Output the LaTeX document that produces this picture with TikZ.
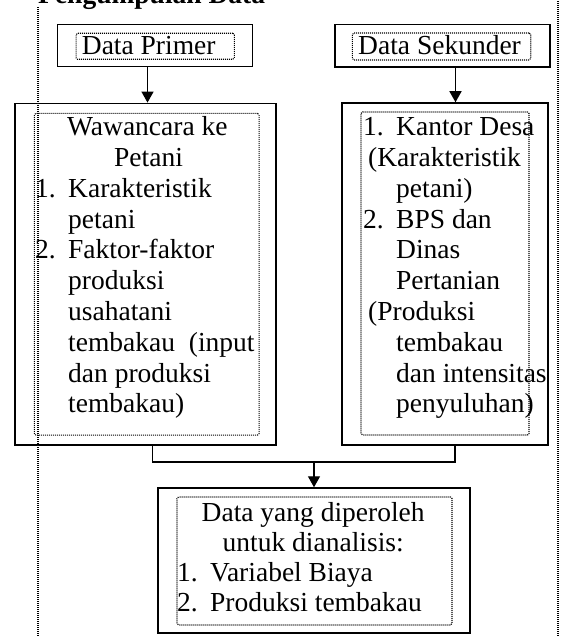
\documentclass[tikz,border=0pt]{standalone}
\usepackage{fontspec}
\setmainfont{Liberation Serif}
\usetikzlibrary{arrows.meta}
\newcommand\boxfont{\fontsize{27.5}{30.8}\selectfont}
\newcommand\hasilfont{\fontsize{27.5}{30}\selectfont}
\newcommand\itemno[1]{\makebox[33pt][l]{#1}}

\begin{document}
\begin{tikzpicture}[x=1pt,y=-1pt,
  kotak/.style={draw,line width=1.5pt,inner sep=0pt},
  titik/.style={line width=1.1pt,dash pattern=on 1pt off 1pt},
  dalam/.style={draw,titik,rounded corners=1.5pt,inner sep=0pt},
  teks/.style={font=\boxfont,inner sep=0pt,anchor=base west},
  garis/.style={line width=1.4pt},
  panah/.style={line width=1.4pt,-{Triangle[width=12pt,length=11pt]}}]

\useasboundingbox (0,0) rectangle (562,636);
\clip (0,0) rectangle (562,636);

% frame
\node[font=\bfseries\fontsize{27.5}{30}\selectfont,inner sep=0pt,anchor=base west] (judul) at (38,4) {Pengumpulan Data};
\draw[titik] (38,7) -- (38,640);
\draw[titik] (558,-5) -- (558,640);

% boxes
\node[kotak,minimum width=195pt,minimum height=42.4pt] (primer) at (154.8,45.5) {};
\node[dalam,minimum width=158.3pt,minimum height=26pt] (primerIn) at (155.2,46.3) {};
\node[kotak,minimum width=215pt,minimum height=42.7pt] (sekunder) at (442.5,45.7) {};
\node[dalam,minimum width=178.4pt,minimum height=27pt] (sekunderIn) at (441.5,46.5) {};

\node[kotak,minimum width=261pt,minimum height=341.7pt] (wawancara) at (145.5,274.2) {};
\node[dalam,minimum width=224.7pt,minimum height=321.7pt] (wawancaraIn) at (146.7,274.2) {};
\node[kotak,minimum width=206pt,minimum height=342pt] (kantor) at (445,274) {};
\node[dalam,minimum width=168pt,minimum height=323pt] (kantorIn) at (445,273.5) {};

\node[kotak,minimum width=312pt,minimum height=145pt] (hasil) at (314,560.5) {};
\node[dalam,minimum width=275pt,minimum height=128pt] (hasilIn) at (314.5,561) {};

% texts
\node[teks] (tPrimer) at (81.7,55) {Data Primer};
\node[teks] (tSekunder) at (358,55) {Data Sekunder};

\node[teks] (tWawancara) at (35,135.7) {\begin{tabular}[t]{@{}l@{}}
\hspace*{32pt}Wawancara ke\\
\hspace*{79pt}Petani\\
\itemno{1.}Karakteristik\\
\hspace*{33pt}petani\\
\itemno{2.}Faktor-faktor\\
\hspace*{33pt}produksi\\
\hspace*{33pt}usahatani\\
\hspace*{33pt}tembakau\ \ (input\\
\hspace*{33pt}dan produksi\\
\hspace*{33pt}tembakau)
\end{tabular}};

\node[teks] (tKantor) at (363,135.7) {\begin{tabular}[t]{@{}l@{}}
\itemno{1.}Kantor Desa\\
\hspace*{5pt}(Karakteristik\\
\hspace*{33pt}petani)\\
\itemno{2.}BPS dan\\
\hspace*{33pt}Dinas\\
\hspace*{33pt}Pertanian\\
\hspace*{5pt}(Produksi\\
\hspace*{33pt}tembakau\\
\hspace*{33pt}dan intensitas\\
\hspace*{33pt}penyuluhan)
\end{tabular}};

\node[teks,font=\hasilfont] (tHasil) at (177,521.7) {\begin{tabular}[t]{@{}l@{}}
\hspace*{24.5pt}Data yang diperoleh\\
\hspace*{45.5pt}untuk dianalisis:\\
\itemno{1.}Variabel Biaya\\
\itemno{2.}Produksi tembakau
\end{tabular}};

% connectors
\coordinate (kiri) at (147.5,0);
\coordinate (kanan) at (455.5,0);
\coordinate (turunKiri) at (152.7,0);
\coordinate (turunKanan) at (455,0);
\coordinate (gabung) at (314,462);

\draw[panah] (kiri |- primer.south) -- (kiri |- wawancara.north);
\draw[panah] (kanan |- sekunder.south) -- (kanan |- kantor.north);
\draw[garis] (turunKiri |- wawancara.south) |- (gabung) -| (turunKanan |- kantor.south);
\draw[panah] (gabung) -- (gabung |- hasil.north);
\end{tikzpicture}
\end{document}
